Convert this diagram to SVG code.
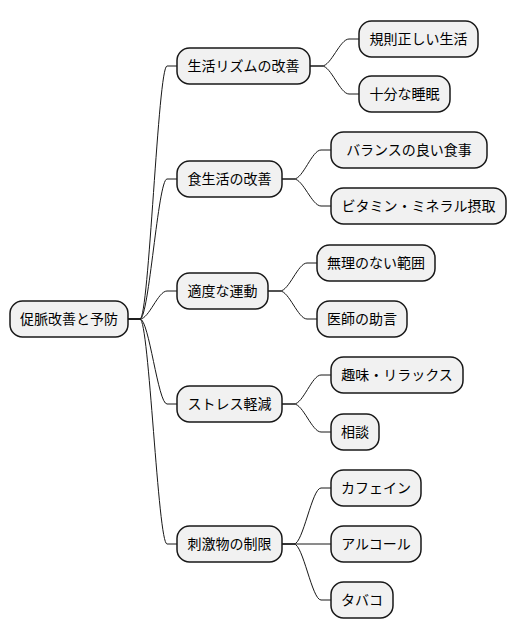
<svg xmlns="http://www.w3.org/2000/svg" width="516" height="640" viewBox="0 0 516 640">
<style>
.n rect{fill:#f1f1f1;stroke:#181818;stroke-width:1.5}
.n text{font-family:"Noto Sans CJK JP","Noto Sans",sans-serif;font-size:14px;fill:#000;text-anchor:middle}
#edges path{fill:none;stroke:#181818;stroke-width:1}
</style>
<rect width="516" height="640" fill="#ffffff"/>
<g id="edges">
<path d="M128,319 L140,319 C149,319 158,66 167,66 L177,66"/>
<path d="M128,319 L140,319 C149,319 158,179 167,179 L177,179"/>
<path d="M128,319 L140,319 C149,319 158,291 167,291 L177,291"/>
<path d="M128,319 L140,319 C149,319 158,404 167,404 L177,404"/>
<path d="M128,319 L140,319 C149,319 158,544 167,544 L177,544"/>
<path d="M310,66 L322,66 C331,66 340,39 349,39 L359,39"/>
<path d="M310,66 L322,66 C331,66 340,94 349,94 L359,94"/>
<path d="M282,179 L294,179 C303,179 312,150 321,150 L331,150"/>
<path d="M282,179 L294,179 C303,179 312,206 321,206 L331,206"/>
<path d="M268,291 L280,291 C289,291 298,263 307,263 L317,263"/>
<path d="M268,291 L280,291 C289,291 298,319 307,319 L317,319"/>
<path d="M282,404 L294,404 C303,404 312,375 321,375 L331,375"/>
<path d="M282,404 L294,404 C303,404 312,432 321,432 L331,432"/>
<path d="M282,544 L294,544 C303,544 312,488 321,488 L331,488"/>
<path d="M282,544 L331,544"/>
<path d="M282,544 L294,544 C303,544 312,600 321,600 L331,600"/>
</g>
<g id="root" class="n"><rect x="10" y="301" width="118" height="36" rx="12.5"/><text x="69" y="324">促脈改善と予防</text></g>
<g id="n1" class="n"><rect x="177" y="48" width="133" height="36" rx="12.5"/><text x="243.5" y="71">生活リズムの改善</text></g>
<g id="n2" class="n"><rect x="177" y="161" width="105" height="36" rx="12.5"/><text x="229.5" y="184">食生活の改善</text></g>
<g id="n3" class="n"><rect x="177" y="273" width="91" height="36" rx="12.5"/><text x="222.5" y="296">適度な運動</text></g>
<g id="n4" class="n"><rect x="177" y="386" width="105" height="36" rx="12.5"/><text x="229.5" y="409">ストレス軽減</text></g>
<g id="n5" class="n"><rect x="177" y="526" width="105" height="36" rx="12.5"/><text x="229.5" y="549">刺激物の制限</text></g>
<g id="n1a" class="n"><rect x="359" y="21" width="119" height="36" rx="12.5"/><text x="418.5" y="44">規則正しい生活</text></g>
<g id="n1b" class="n"><rect x="359" y="76" width="91" height="36" rx="12.5"/><text x="404.5" y="99">十分な睡眠</text></g>
<g id="n2a" class="n"><rect x="331" y="132" width="156" height="36" rx="12.5"/><text x="409" y="155">バランスの良い食事</text></g>
<g id="n2b" class="n"><rect x="331" y="188" width="175" height="36" rx="12.5"/><text x="418.5" y="211">ビタミン・ミネラル摂取</text></g>
<g id="n3a" class="n"><rect x="317" y="245" width="118" height="36" rx="12.5"/><text x="376" y="268">無理のない範囲</text></g>
<g id="n3b" class="n"><rect x="317" y="301" width="90" height="36" rx="12.5"/><text x="362" y="324">医師の助言</text></g>
<g id="n4a" class="n"><rect x="331" y="357" width="132" height="36" rx="12.5"/><text x="397" y="380">趣味・リラックス</text></g>
<g id="n4b" class="n"><rect x="331" y="414" width="48" height="36" rx="12.5"/><text x="355" y="437">相談</text></g>
<g id="n5a" class="n"><rect x="331" y="470" width="90" height="36" rx="12.5"/><text x="376" y="493">カフェイン</text></g>
<g id="n5b" class="n"><rect x="331" y="526" width="90" height="36" rx="12.5"/><text x="376" y="549">アルコール</text></g>
<g id="n5c" class="n"><rect x="331" y="582" width="62" height="36" rx="12.5"/><text x="362" y="605">タバコ</text></g>
</svg>
